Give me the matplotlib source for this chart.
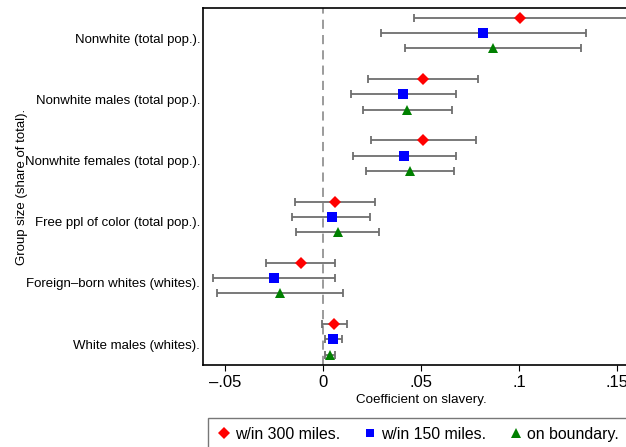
import numpy as np
import matplotlib
matplotlib.use("Agg")
from matplotlib import pyplot as plt

plt.rcParams['font.family'] = ['Liberation Sans', 'DejaVu Sans']

# groups, top to bottom
groups = ["Nonwhite (total pop.).", "Nonwhite males (total pop.).",
          "Nonwhite females (total pop.).", "Free ppl of color (total pop.).",
          "Foreign\u2013born whites (whites).", "White males (whites)."]

# w/in 300 miles
coef300 = [0.1005, 0.0510, 0.0512, 0.0061, -0.0114, 0.0058]
lo300 = [0.0464, 0.0228, 0.0245, -0.0141, -0.0289, -0.0007]
hi300 = [0.1560, 0.0791, 0.0782, 0.0267, 0.0061, 0.0124]

# w/in 150 miles
coef150 = [0.0816, 0.0410, 0.0415, 0.0044, -0.0248, 0.0053]
lo150 = [0.0296, 0.0143, 0.0151, -0.0158, -0.0561, 0.0010]
hi150 = [0.1342, 0.0677, 0.0677, 0.0240, 0.0061, 0.0099]

# on boundary
coefb = [0.0867, 0.0430, 0.0444, 0.0075, -0.0218, 0.0037]
lob = [0.0418, 0.0202, 0.0219, -0.0138, -0.0539, 0.0012]
hib = [0.1316, 0.0660, 0.0668, 0.0286, 0.0104, 0.0063]

series = [
    ("w/in 300 miles.", coef300, lo300, hi300, 'D', 'red', -0.33, 6.0),
    ("w/in 150 miles.", coef150, lo150, hi150, 's', 'blue', -0.08, 6.5),
    ("on boundary.", coefb, lob, hib, '^', 'green', 0.17, 7.5),
]

fig = plt.figure(figsize=(6.26, 4.47), dpi=100)
ax = fig.add_axes([203/626, 82/447, 437/626, 357/447])

ax.axvline(0, color='#808080', lw=1.1, ls=(0, (6, 4)), zorder=1)

ypos = np.arange(len(groups))
handles = []
for name, c, lo, hi, mk, col, off, ms in series:
    c = np.array(c); lo = np.array(lo); hi = np.array(hi)
    y = ypos + off
    ax.errorbar(c, y, xerr=[c - lo, hi - c], fmt='none', ecolor='#6e6e6e',
                elinewidth=1.3, capsize=3, capthick=1.3, zorder=2)
    h = ax.plot(c, y, linestyle='none', marker=mk, color=col, ms=ms,
                markeredgewidth=0, zorder=3, label=name)[0]
    handles.append(h)

ax.set_xlim(-0.0612, 0.1566 + 10/1960)
ax.set_ylim(5.34, -0.49)
ax.set_yticks(ypos)
ax.set_yticklabels(groups, fontsize=9.5)
ax.set_xticks([-0.05, 0, 0.05, 0.1, 0.15])
ax.set_xticklabels(["\u2013.05", "0", ".05", ".1", ".15"], fontsize=12)
ax.tick_params(axis='y', length=0, pad=2)
ax.tick_params(axis='x', length=4, width=0.8, pad=3)
for s in ax.spines.values():
    s.set_linewidth(1.2)

ax.set_ylabel("Group size (share of total).", fontsize=9.5)
ax.yaxis.set_label_coords(-0.40, 0.5)
fig.text(421/626, 1 - 400/447, "Coefficient on slavery.", ha='center', va='center',
         fontsize=9.6)

leg = fig.legend(handles=handles, loc='upper left', bbox_to_anchor=(208/626, 1 - 418/447),
                 ncol=3, fontsize=11.4, frameon=True, fancybox=False,
                 edgecolor='#555555', handlelength=0.9, handletextpad=0.25,
                 columnspacing=1.45, borderpad=0.55, borderaxespad=0,
                 markerscale=0.95)
leg.get_frame().set_linewidth(1.0)

fig.savefig("out.png", dpi=100)
